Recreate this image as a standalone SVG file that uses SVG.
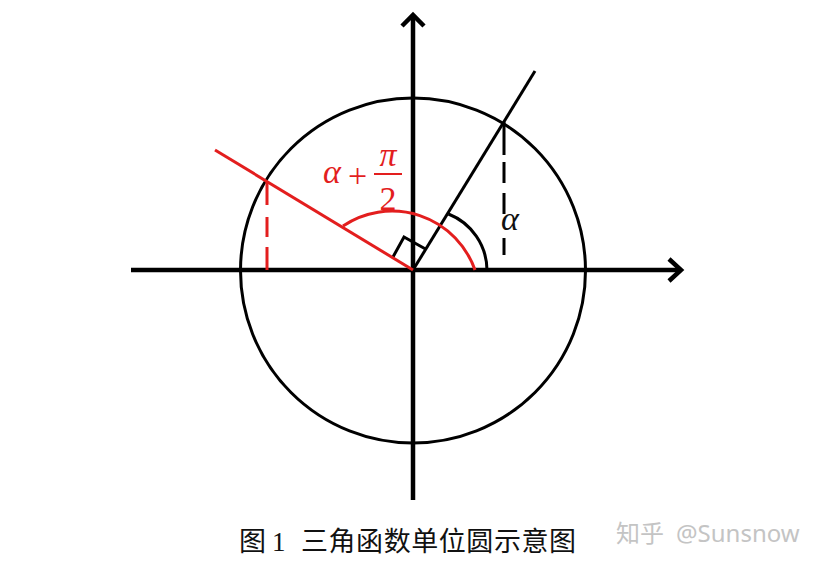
<svg xmlns="http://www.w3.org/2000/svg" width="823" height="567" viewBox="0 0 823 567">
<style>
.ax{stroke:#000;stroke-width:4.5;fill:none;stroke-linecap:butt}
.blk{stroke:#000;stroke-width:3;fill:none}
.red{stroke:#e31e1e;stroke-width:3;fill:none}
.rm{font-family:"Liberation Serif","Times New Roman",serif;font-size:34px}
.it{font-style:italic}
.cap{font-family:"Liberation Serif","Noto Sans CJK SC",serif;font-size:27px;fill:#111}
.wm{font-family:"Noto Sans CJK SC","Noto Sans",sans-serif;font-size:24px;fill:#c4c4c4}
</style>
<rect width="823" height="567" fill="#fff"/>
<g id="circle"><circle cx="413" cy="270.5" r="172.5" class="blk"/></g>
<g id="axes">
<path class="ax" d="M131 270H681"/>
<path class="ax" d="M669 259L681 270L669 281"/>
<path class="ax" d="M413 500V15"/>
<path class="ax" d="M402 26L413 15L424 26"/>
</g>
<g id="connectors">
<path class="blk" d="M413 270L535 71"/>
<path class="blk" d="M504 122V155M504 162V183M504 193V214M504 238V255"/>
<path class="blk" d="M448.5 214A61 61 0 0 1 487 270"/>
<path class="blk" d="M392.7 257.5L404 237L425.5 249"/>
<path class="red" d="M413 270L215 150"/>
<path class="red" d="M267 182V205M267 217V237M267 247V270"/>
<path class="red" d="M343 226A88 88 0 0 1 475 270"/>
</g>
<g id="label-red" fill="#e31e1e">
<text class="rm it" x="323" y="183">α</text>
<text class="rm" x="348" y="187">+</text>
<rect x="374" y="173" width="28" height="2"/>
<text class="rm it" x="388" y="166" text-anchor="middle">π</text>
<text class="rm" x="388" y="210" text-anchor="middle">2</text>
</g>
<g id="label-alpha"><text class="rm it" x="501" y="230" fill="#111">α</text></g>
<g id="caption"><text class="cap" x="239" y="551">图<tspan x="272">1</tspan><tspan x="301" textLength="275" lengthAdjust="spacing">三角函数单位圆示意图</tspan></text></g>
<g id="watermark"><text class="wm" x="616" y="542">知乎<tspan x="676" font-family="'Noto Sans','Liberation Sans',sans-serif">@Sunsnow</tspan></text></g>
</svg>
